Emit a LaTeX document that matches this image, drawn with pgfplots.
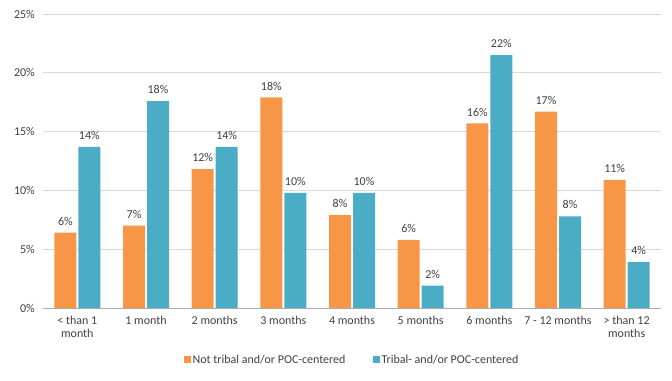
\documentclass[border=0pt]{standalone}
\usepackage{fontspec}
\setmainfont{Carlito}
\usepackage{pgfplots}
\pgfplotsset{compat=1.18}
\definecolor{cOr}{HTML}{F79646}
\definecolor{cTe}{HTML}{4BACC6}
\definecolor{cTx}{HTML}{404040}
\definecolor{cGr}{HTML}{D9D9D9}
\begin{document}
\begin{tikzpicture}
\fontsize{12}{14}\selectfont
\begin{axis}[
  scale only axis,
  width=618pt, height=294pt,
  ybar, bar width=22pt,
  ymin=0, ymax=25,
  ytick={0,5,10,15,20,25},
  yticklabel={\pgfmathprintnumber{\tick}\%},
  /pgf/number format/assume math mode=true,
  xmin=-0.5, xmax=8.5,
  xtick={0,1,2,3,4,5,6,7,8},
  xticklabels={{< than 1\\month},{1 month},{2 months},{3 months},{4 months},{5 months},{6 months},{7 - 12 months},{> than 12\\months}},
  xticklabel style={align=center, text=cTx, font=\fontsize{12}{13}\selectfont, yshift=-4pt},
  yticklabel style={text=cTx, font=\fontsize{12}{13}\selectfont, xshift=-4pt},
  major tick length=0pt,
  ymajorgrids, grid style={cGr, line width=0.8pt},
  axis line style={draw=none},
  axis x line*=bottom,
  extra y ticks={0}, extra y tick labels={},
  extra y tick style={grid style={cGr!80!black, line width=0.8pt}},
  nodes near coords={\pgfmathprintnumber[fixed,precision=0]{\pgfplotspointmeta}\%},
  nodes near coords style={text=cTx, font=\fontsize{12}{13}\selectfont, yshift=3pt},
  legend style={draw=none, at={(0.5,-0.145)}, anchor=north, legend columns=2,
    font=\fontsize{12}{13}\selectfont, text=cTx,
    nodes={inner xsep=1.5pt},
    /tikz/every even column/.append style={column sep=26pt}},
  legend image code/.code={\fill[#1] (0pt,-3.5pt) rectangle (7pt,3.5pt);},
]
\addplot[fill=cOr, draw=none, bar shift=-12pt] coordinates {
(0,6.4) (1,7.0) (2,11.8) (3,17.9) (4,7.9) (5,5.8) (6,15.7) (7,16.7) (8,10.9)};
\addplot[fill=cTe, draw=none, bar shift=12pt] coordinates {
(0,13.7) (1,17.6) (2,13.7) (3,9.8) (4,9.8) (5,1.9) (6,21.5) (7,7.8) (8,3.9)};
\legend{Not tribal and/or POC-centered, Tribal- and/or POC-centered}
\end{axis}
\pgfresetboundingbox
\path (current axis.south west) ++(-43pt,-72pt) coordinate (bl);
\path (current axis.north east) ++(11pt,14pt) coordinate (tr);
\useasboundingbox (bl) rectangle (tr);
\end{tikzpicture}
\end{document}
